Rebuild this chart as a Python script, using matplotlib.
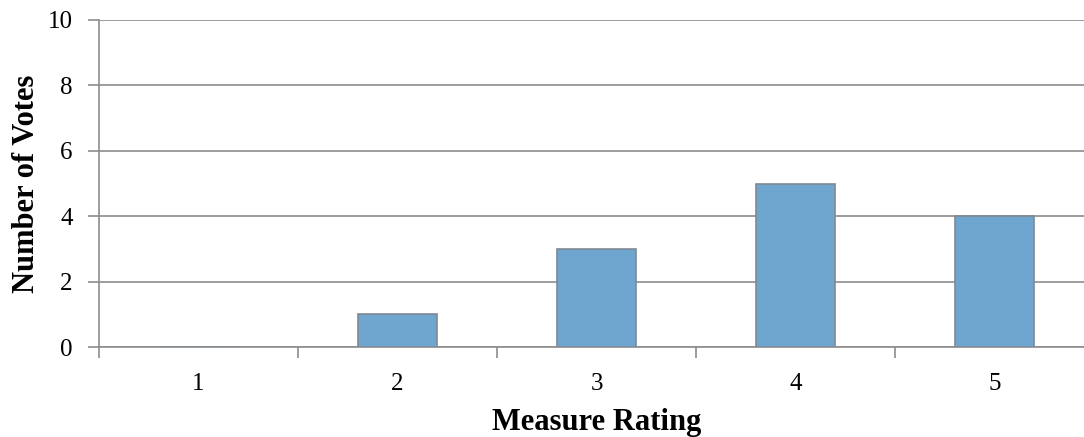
import matplotlib.pyplot as plt

ratings = [1, 2, 3, 4, 5]
rating_labels = ['1', '2', '3', '4', '5']
votes = [0, 1, 3, 5, 4]

plt.rcParams['font.family'] = ['Liberation Serif', 'DejaVu Serif']

fig = plt.figure(figsize=(10.84, 4.37), dpi=100)
ax = fig.add_axes([99 / 1084, 1 - 347 / 437, 995 / 1084, 327 / 437])

grid_color = '#8c8c8c'
ax.bar(ratings, votes, width=0.4, color='#6fa6cf', edgecolor='#7f8a94', linewidth=1.2, zorder=3)

ax.set_xlim(0.5, 5.5)
ax.set_ylim(0, 10)
ax.set_yticks(range(0, 11, 2))
ax.yaxis.grid(True, color=grid_color, linewidth=1.2, zorder=0)

# category boundaries carry the tick marks, labels sit in the middle
ax.set_xticks([0.5, 1.5, 2.5, 3.5, 4.5])
ax.set_xticklabels([])
ax.set_xticks(ratings, minor=True)
ax.set_xticklabels(rating_labels, minor=True)
ax.tick_params(axis='x', which='major', length=8, color=grid_color, width=1.2, direction='out')
ax.tick_params(axis='x', which='minor', length=0, pad=19, labelsize=18)
ax.tick_params(axis='y', length=8, color=grid_color, width=1.2, labelsize=18, pad=11)

for side in ['top', 'right']:
    ax.spines[side].set_visible(False)
ax.spines['left'].set_color(grid_color)
ax.spines['bottom'].set_color(grid_color)
ax.spines['left'].set_linewidth(1.2)
ax.spines['bottom'].set_linewidth(1.2)

ax.set_xlabel('Measure Rating', fontsize=22, fontweight='bold', labelpad=9)
ax.set_ylabel('Number of Votes', fontsize=22, fontweight='bold', labelpad=5)

plt.savefig('out.png', dpi=100)
